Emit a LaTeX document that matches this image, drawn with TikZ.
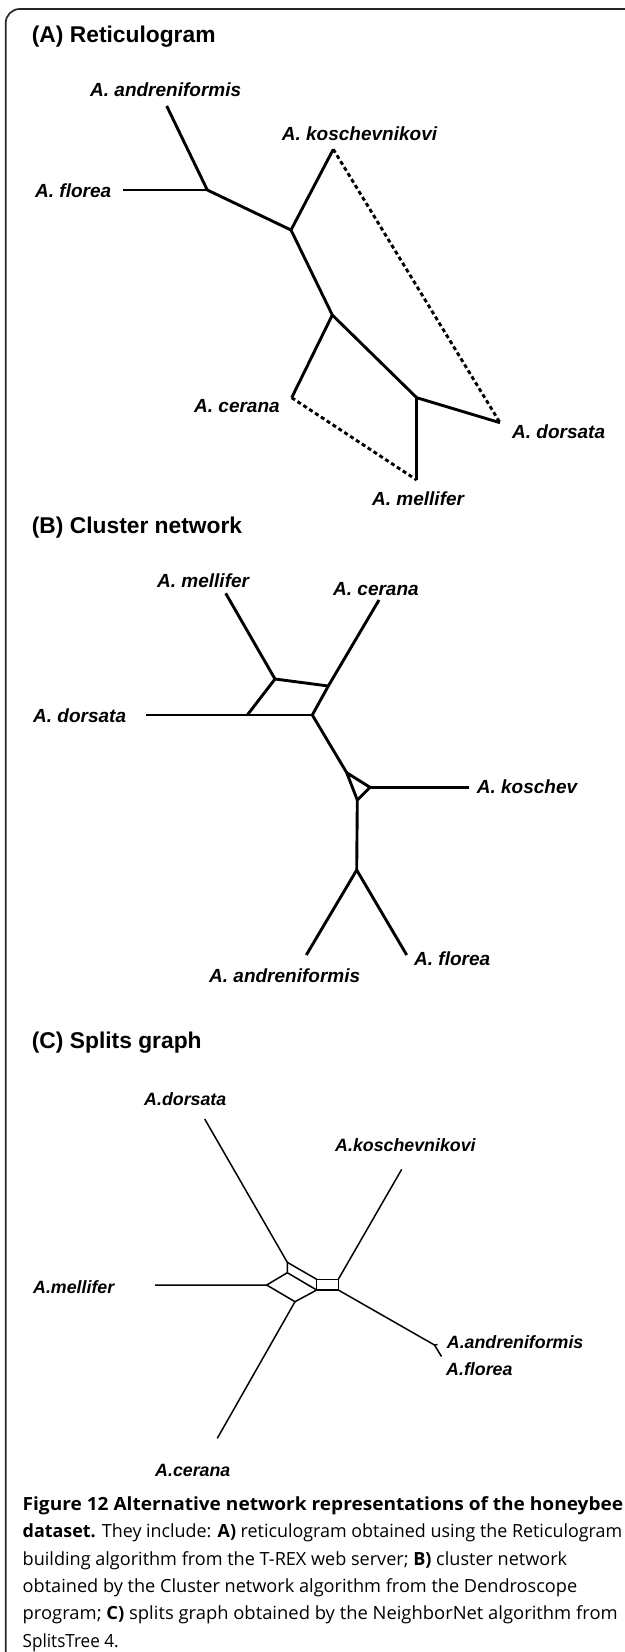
\documentclass[tikz,border=0pt]{standalone}
\usepackage{fontspec}
\setmainfont{Liberation Sans}
\newfontfamily\labfont{Liberation Sans}
\newfontfamily\capfont{Open Sans}
\newlength\caplinew
\tikzset{
  frame/.style={draw=black!85, line width=1.7pt, rounded corners=14pt},
  netA/.style={line width=2.9pt, line join=round},
  dashA/.style={line width=2.9pt, dash pattern=on 4pt off 3pt},
  netC/.style={line width=1.5pt, line join=round},
  ttl/.style={font=\labfont\bfseries\fontsize{22.8}{22.8}\selectfont, inner sep=0pt, anchor=base west},
  lab/.style={font=\labfont\bfseries\itshape\fontsize{19}{19}\selectfont, inner sep=0pt, anchor=base west},
  labc/.style={font=\labfont\bfseries\itshape\fontsize{17.8}{17.8}\selectfont, inner sep=0pt, anchor=base west},
  capline/.style={font=\capfont\fontsize{\capfs}{\capfs}\selectfont, inner sep=0pt, anchor=base west}
}
% caption lines: text starts at x = 22.5 and each line ends where its right edge is given
\newcommand\capmeasure[3]{%
  \settowidth\caplinew{\capfont\fontsize{\capfs}{\capfs}\selectfont #3}%
  \pgfmathsetmacro#1{(#2-22.5)/\caplinew}}
\newcommand\capA{\textbf{Figure 12 Alternative network representations of the honeybee}}
\newcommand\capB{\textbf{dataset.} They include: \textbf{A)} reticulogram obtained using the Reticulogram}
\newcommand\capC{building algorithm from the T-REX web server; \textbf{B)} cluster network}
\newcommand\capD{obtained by the Cluster network algorithm from the Dendroscope}
\newcommand\capE{program; \textbf{C)} splits graph obtained by the NeighborNet algorithm from}
\newcommand\capF{SplitsTree 4.}
\begin{document}
\settowidth\caplinew{\capfont\fontsize{20}{20}\selectfont\capD}%
\pgfmathsetmacro\capfs{20*554.5/\caplinew}%
\capmeasure\xsA{623}{\capA}%
\capmeasure\xsB{622}{\capB}%
\capmeasure\xsC{567}{\capC}%
\capmeasure\xsD{577}{\capD}%
\capmeasure\xsE{617.5}{\capE}%
\capmeasure\xsF{118.5}{\capF}%
\begin{tikzpicture}[x=1pt,y=-1pt]
\useasboundingbox (0,0) rectangle (624,1652);

% outer frame
\draw[frame] (5.7,9) rectangle (660,1670);

% ---------------- (A) Reticulogram ----------------
\node[ttl] (ta) at (31.7,42.5) {(A) Reticulogram};
\coordinate (a-and) at (166.7,106);
\coordinate (a-n1) at (207.3,190);
\coordinate (a-flo) at (122.7,190);
\coordinate (a-n2) at (291,230);
\coordinate (a-kos) at (333.3,149.3);
\coordinate (a-n3) at (332.3,315);
\coordinate (a-cer) at (291.7,397.7);
\coordinate (a-n4) at (416.7,397.7);
\coordinate (a-mel) at (416.7,480);
\coordinate (a-dor) at (500,422.7);
\draw[netA] (a-and) -- (a-n1) -- (a-n2) -- (a-n3) -- (a-n4) -- (a-dor);
\draw[netA] (a-flo) -- (a-n1);
\draw[netA] (a-n2) -- (a-kos);
\draw[netA] (a-n3) -- (a-cer);
\draw[netA] (a-n4) -- (a-mel);
\draw[dashA] (a-kos) -- (a-dor);
\draw[dashA] (a-cer) -- (a-mel);
\node[lab] (la-and) at (90,96) {A. andreniformis};
\node[lab] (la-flo) at (35,197.7) {A. florea};
\node[lab] (la-kos) at (281.7,140.3) {A. koschevnikovi};
\node[lab] (la-cer) at (194,412) {A. cerana};
\node[lab] (la-dor) at (512,438.7) {A. dorsata};
\node[lab] (la-mel) at (372,505.3) {A. mellifer};

% ---------------- (B) Cluster network ----------------
\node[ttl] (tb) at (31.7,533) {(B) Cluster network};
\coordinate (b-mel) at (225.7,593.3);
\coordinate (b-m1) at (275,679);
\coordinate (b-cer) at (379,600);
\coordinate (b-c1) at (328.3,686);
\coordinate (b-r) at (312.3,715);
\coordinate (b-d1) at (247.3,715);
\coordinate (b-dor) at (146,715);
\coordinate (b-t1) at (346.7,772.7);
\coordinate (b-t2) at (370,787.3);
\coordinate (b-t3) at (357.3,800);
\coordinate (b-kos) at (469.3,787.3);
\coordinate (b-f) at (356.7,870);
\coordinate (b-and) at (306.3,955);
\coordinate (b-flo) at (406.7,955);
\draw[netA] (b-mel) -- (b-m1) -- (b-d1);
\draw[netA] (b-m1) -- (b-c1);
\draw[netA] (b-cer) -- (b-c1) -- (b-r) -- (b-t1);
\draw[netA] (b-dor) -- (b-r);
\draw[netA] (b-t1) -- (b-t2) -- (b-t3) -- cycle;
\draw[netA] (b-t2) -- (b-kos);
\draw[netA] (b-t3) -- (b-f);
\draw[netA] (b-f) -- (b-and);
\draw[netA] (b-f) -- (b-flo);
\node[lab] (lb-mel) at (157,587) {A. mellifer};
\node[lab] (lb-cer) at (333,595.3) {A. cerana};
\node[lab] (lb-dor) at (33,722) {A. dorsata};
\node[lab] (lb-kos) at (476.7,793.7) {A. koschev};
\node[lab] (lb-flo) at (414,965.3) {A. florea};
\node[lab] (lb-and) at (209,982) {A. andreniformis};

% ---------------- (C) Splits graph ----------------
\node[ttl] (tc) at (31.7,1048) {(C) Splits graph};
\coordinate (c-dor) at (204.7,1119);
\coordinate (c-p1) at (287.3,1262.3);
\coordinate (c-p2) at (287.3,1272.7);
\coordinate (c-l) at (266.7,1285);
\coordinate (c-b) at (295,1301.7);
\coordinate (c-s1) at (316.7,1279.3);
\coordinate (c-s2) at (338.3,1279.3);
\coordinate (c-s3) at (316.7,1290);
\coordinate (c-s4) at (338.3,1290);
\coordinate (c-kos) at (401.7,1169.3);
\coordinate (c-e) at (434.5,1345);
\coordinate (c-and) at (437.5,1344.5);
\coordinate (c-flo) at (441.5,1356.5);
\coordinate (c-mel) at (155,1285);
\coordinate (c-cer) at (217.3,1438.3);
\draw[netC] (c-dor) -- (c-p1) -- (c-p2);
\draw[netC] (c-p1) -- (c-s1);
\draw[netC] (c-p2) -- (c-s3);
\draw[netC] (c-mel) -- (c-l) -- (c-p2);
\draw[netC] (c-l) -- (c-b) -- (c-s3);
\draw[netC] (c-s1) -- (c-s2) -- (c-s4) -- (c-s3) -- cycle;
\draw[netC] (c-s2) -- (c-kos);
\draw[netC] (c-s4) -- (c-e) -- (c-and);
\draw[netC] (c-e) -- (c-flo);
\draw[netC] (c-b) -- (c-cer);
\node[labc] (lc-dor) at (144,1105.4) {A.dorsata};
\node[labc] (lc-kos) at (335,1151.4) {A.koschevnikovi};
\node[labc] (lc-mel) at (33,1293) {A.mellifer};
\node[labc] (lc-and) at (446.7,1348) {A.andreniformis};
\node[labc] (lc-flo) at (446,1375.7) {A.florea};
\node[labc] (lc-cer) at (155,1476) {A.cerana};

% ---------------- caption ----------------
\node[capline, xscale=\xsA] (cap1) at (22.5,1510) {\capA};
\node[capline, xscale=\xsB] (cap2) at (22.5,1537.5) {\capB};
\node[capline, xscale=\xsC] (cap3) at (22.5,1565) {\capC};
\node[capline, xscale=\xsD] (cap4) at (22.5,1592) {\capD};
\node[capline, xscale=\xsE] (cap5) at (22.5,1619.5) {\capE};
\node[capline, xscale=\xsF] (cap6) at (22.5,1647) {\capF};
\end{tikzpicture}
\end{document}
